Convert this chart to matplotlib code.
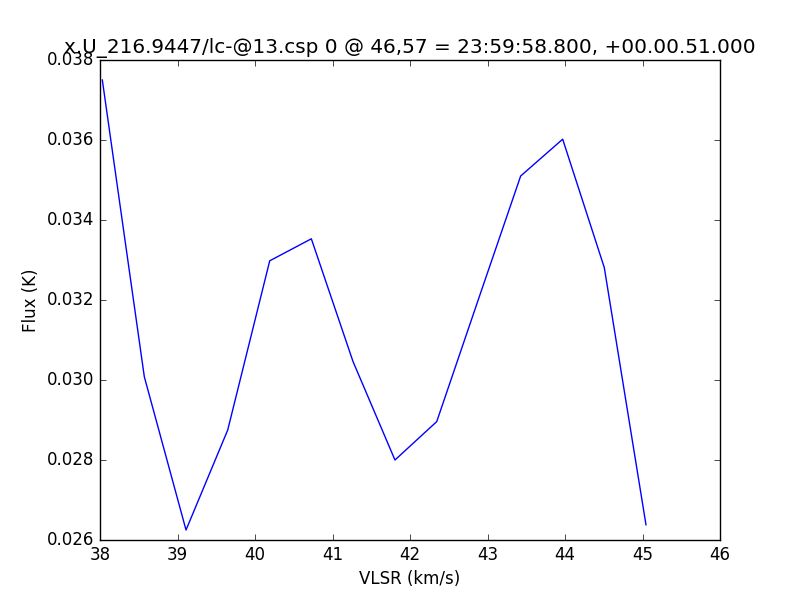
import matplotlib
matplotlib.use('Agg')
import matplotlib.pyplot as plt

title = 'x.U_216.9447/lc-@13.csp 0 @ 46,57 = 23:59:58.800, +00.00.51.000'

vlsr = [38.030, 38.572, 39.110, 39.648, 40.190, 40.727, 41.265,
        41.806, 42.345, 42.885, 43.428, 43.970, 44.507, 45.045]
flux = [0.03750, 0.03008, 0.02625, 0.02875, 0.03298, 0.03353, 0.03046,
        0.02800, 0.02896, 0.03203, 0.03510, 0.03602, 0.03281, 0.02638]

plt.style.use('classic')
plt.rcParams['font.family'] = 'DejaVu Sans'

fig = plt.figure(figsize=(8, 6), dpi=100, facecolor='white')
ax = fig.add_subplot(111)
ax.plot(vlsr, flux, color='b', linewidth=1)
ax.set_xlim(38, 46)
ax.set_ylim(0.026, 0.038)
ax.set_xticks(range(38, 47))
ax.set_yticks([0.026, 0.028, 0.030, 0.032, 0.034, 0.036, 0.038])
ax.yaxis.set_major_formatter(matplotlib.ticker.FormatStrFormatter('%.3f'))
ax.set_xlabel('VLSR (km/s)')
ax.set_ylabel('Flux (K)')
ax.set_title(title)

fig.savefig('out.png', dpi=100, facecolor='white')
